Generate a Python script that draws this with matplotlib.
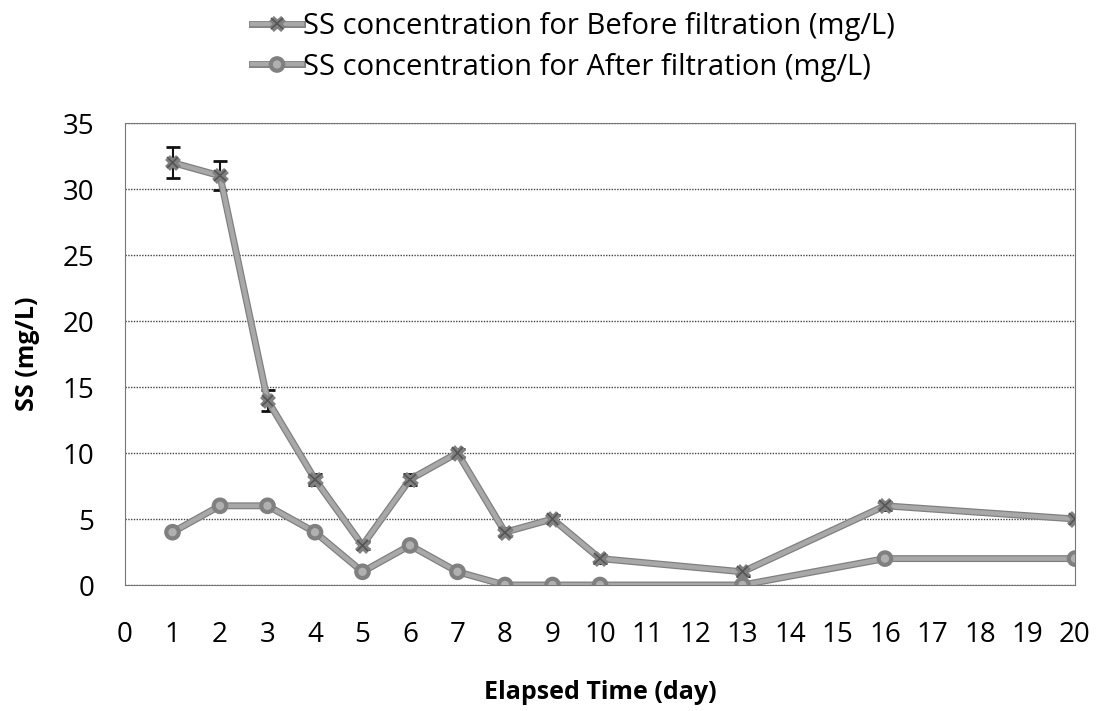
import matplotlib.pyplot as plt
import matplotlib.patheffects as pe
from matplotlib.lines import Line2D

days = [1, 2, 3, 4, 5, 6, 7, 8, 9, 10, 13, 16, 20]
before = [32, 31, 14, 8, 3, 8, 10, 4, 5, 2, 1, 6, 5]
before_err = [1.2, 1.1, 0.8, 0.4, 0.3, 0.4, 0.3, 0.3, 0.3, 0.3, 0.3, 0.3, 0.3]
after = [4, 6, 6, 4, 1, 3, 1, 0, 0, 0, 0, 2, 2]
lab_before = 'SS concentration for Before filtration (mg/L)'
lab_after = 'SS concentration for After filtration (mg/L)'

plt.rcParams['font.family'] = ['Open Sans', 'DejaVu Sans']

fig = plt.figure(figsize=(10.99, 7.11), dpi=100)
ax = fig.add_axes([125/1099, 1-585/711, 950/1099, 462/711])

grey = '#a8a8a8'
edge = [pe.Stroke(linewidth=5, foreground='#808080'), pe.Normal()]
xstyle = dict(color=grey, lw=3.2, marker='x', ms=8, mec='#555555', mew=1.2, path_effects=edge)
ostyle = dict(color=grey, lw=3.2, marker='o', ms=7, mfc='#b0b0b0', mec='#808080', path_effects=edge)

ax.errorbar(days, before, yerr=before_err, fmt='none', ecolor='#111111',
            elinewidth=1.5, capsize=5, capthick=2, zorder=2)
ax.plot(days, before, zorder=3, **xstyle)
ax.plot(days, after, zorder=3, **ostyle)

ax.set_xlim(0, 20)
ax.set_ylim(0, 35)
ax.set_xticks(range(0, 21))
ax.set_yticks(range(0, 36, 5))
ax.tick_params(length=0, labelsize=20)
ax.tick_params(axis='x', pad=26)
ax.tick_params(axis='y', pad=22)
ax.grid(axis='y', color='#444444', ls=(0, (1, 1)), lw=1)
for s in ax.spines.values():
    s.set_color('#777777')
    s.set_linestyle((0, (1, 1)))
ax.set_xlabel('Elapsed Time (day)', fontsize=18, fontweight='bold', labelpad=22)
ax.set_ylabel('SS (mg/L)', fontsize=18, fontweight='bold', labelpad=16)

handles = [Line2D([], [], **xstyle), Line2D([], [], **ostyle)]
fig.legend(handles, [lab_before, lab_after], loc='upper center', bbox_to_anchor=(0.522, 1.02),
           frameon=False, fontsize=21, handlelength=1.7, handletextpad=0.05, labelspacing=0.4)

fig.savefig('out.png', dpi=100)
